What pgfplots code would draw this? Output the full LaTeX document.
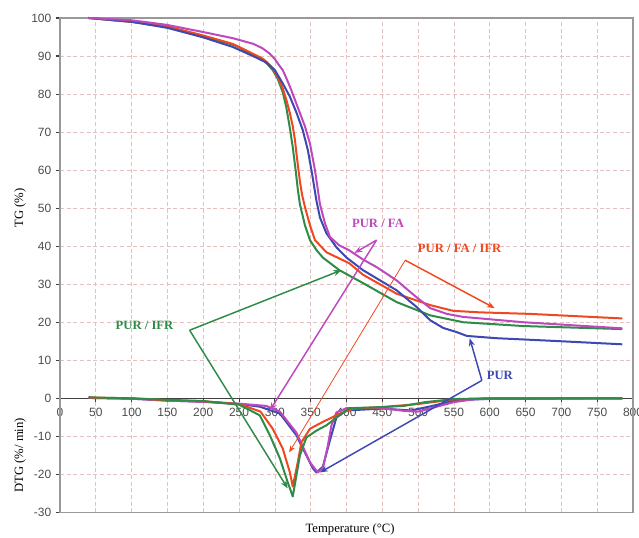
\documentclass[border=0pt]{standalone}
\usepackage{fontspec}
\setmainfont{Liberation Serif}
\newfontfamily\tickfont{Liberation Sans}
\usepackage{pgfplots}
\usepackage{pgfplotstable}
\pgfplotsset{compat=1.18}
\usetikzlibrary{arrows.meta}

\definecolor{cGreen}{RGB}{46,139,72}
\definecolor{cOrange}{RGB}{240,72,30}
\definecolor{cBlue}{RGB}{62,72,178}
\definecolor{cMag}{RGB}{190,72,190}
\definecolor{gridc}{RGB}{228,192,192}

% TG curves (mass %)
\pgfplotstableread{
T    m
40   100
80   99.3
100  99.0
150  97.6
200  95.2
241  93.0
250  92.3
262  91.0
275  89.8
283  89.0
290  87.8
297  86.3
304  84.0
311  80.5
316  76.5
321  71.0
325  66.0
329  60.0
332  55.0
335  51.0
342  45.5
349  41.6
358  39.0
367  37.0
390  33.7
423  30.3
470  25.3
517  21.8
563  20.0
647  19.0
785  18.2
}\tgPURIFR

\pgfplotstableread{
T    m
40   100
100  99.0
150  97.8
200  95.4
241  93.2
262  91.3
283  89.3
290  88.2
297  86.8
304  84.5
311  81.5
316  78.5
321  75.0
325  71.5
328  68.0
331  63.0
335  57.0
338  53.5
342  50.3
349  45.5
356  41.6
372  38.4
404  35.5
423  32.5
470  27.5
517  24.5
549  23.0
586  22.6
656  22.2
785  21.0
}\tgPURFAIFR

\pgfplotstableread{
T    m
40   100
100  99.0
150  97.4
200  94.9
241  92.4
260  90.8
275  89.5
288  88.3
300  86.3
311  82.8
321  79.3
330  75.2
339  70.5
346  65.3
352  59.0
358  52.0
363  47.5
372  43.4
386  39.7
400  37.0
423  33.7
470  28.4
498  24.0
517  20.5
535  18.5
554  17.4
568  16.4
610  15.8
700  15.0
785  14.2
}\tgPUR

\pgfplotstableread{
T    m
40   100
100  99.4
149  98.2
200  96.3
241  94.7
270  93.2
283  92.0
293  90.6
300  89.2
305  87.8
311  86.3
316  84.2
322  81.5
328  78.5
335  75.0
342  71.5
349  67.0
356  60.0
363  51.0
370  46.0
377  42.4
390  40.2
404  38.9
423  36.5
442  34.5
470  31.0
495  27.0
517  23.7
540  22.2
563  21.4
647  20.0
785  18.4
}\tgPURFA

% DTG curves (%/min)
\pgfplotstableread{
T    d
40   0.3
50   0.2
100  0.0
150  -0.4
200  -0.7
250  -1.7
262  -2.8
279  -4.5
293  -9.7
307  -15.8
318  -22.1
325  -25.8
335  -15.0
344  -10.3
358  -8.5
372  -7.1
390  -4.5
404  -2.6
450  -2.3
480  -2.0
510  -1.0
550  -0.2
600  0.0
785  0.0
}\dtgPURIFR

\pgfplotstableread{
T    d
40   0.2
100  0.0
150  -0.5
200  -0.8
250  -1.5
280  -3.5
297  -8.0
311  -13.2
321  -19.5
325  -23.2
332  -16.8
337  -11.6
349  -8.0
367  -6.2
391  -4.0
410  -2.7
450  -2.3
500  -1.5
550  -0.3
600  0.0
785  0.0
}\dtgPURFAIFR

\pgfplotstableread{
T    d
40   0.1
100  -0.1
150  -0.6
200  -0.9
250  -1.5
279  -2.2
307  -4.0
330  -9.7
344  -15.0
353  -18.4
358  -19.5
367  -18.0
377  -11.0
386  -5.0
400  -3.2
450  -2.7
490  -3.2
520  -2.0
550  -0.6
600  -0.1
785  0.0
}\dtgPUR

\pgfplotstableread{
T    d
40   0.1
100  -0.1
150  -0.6
200  -0.9
250  -1.4
288  -2.0
307  -3.5
330  -9.0
349  -16.8
360  -19.5
367  -18.4
374  -12.4
379  -7.1
386  -3.7
400  -2.6
450  -2.6
480  -3.3
500  -3.5
520  -2.5
550  -1.0
580  -0.2
785  0.0
}\dtgPURFA

\begin{document}
\begin{tikzpicture}
\begin{axis}[
  scale only axis,
  width=430pt, height=371pt,
  xmin=0, xmax=800, ymin=-30, ymax=100,
  axis x line=middle, axis y line=left,
  axis line style={-, black!75, line width=1.1pt},
  xtick={0,50,...,800}, ytick={-30,-20,...,100},
  hide obscured x ticks=false, hide obscured y ticks=false,
  grid=major,
  major grid style={gridc, densely dashed, line width=0.5pt},
  tick align=outside, major tick length=3pt,
  tick style={black!75, line width=0.8pt},
  ticklabel style={font=\tickfont\fontsize{9}{10}\selectfont, text=black!70},
  x tick label style={yshift=-1pt},
  /pgf/number format/assume math mode=true,
  clip=false,
  every axis plot/.append style={line width=1.5pt, line join=round},
]
\coordinate (SW) at (rel axis cs:0,0);
\coordinate (NE) at (rel axis cs:1,1);
\draw[black!40, line width=0.8pt] (rel axis cs:0,0) rectangle (rel axis cs:1,1);

% TG
\addplot[cGreen]  table[x=T,y=m] {\tgPURIFR};
\addplot[cOrange] table[x=T,y=m] {\tgPURFAIFR};
\addplot[cBlue]   table[x=T,y=m] {\tgPUR};
\addplot[cMag]    table[x=T,y=m] {\tgPURFA};
% DTG
\addplot[cBlue]   table[x=T,y=d] {\dtgPUR};
\addplot[cMag]    table[x=T,y=d] {\dtgPURFA};
\addplot[cOrange] table[x=T,y=d] {\dtgPURFAIFR};
\addplot[cGreen]  table[x=T,y=d] {\dtgPURIFR};

% callouts
\tikzset{call/.style={line width=1.1pt, -{Stealth[length=6pt,width=4.5pt]}}}
\draw[cMag,call] (axis cs:442,41.6) -- (axis cs:411,38.2);
\draw[cMag,call] (axis cs:442,41.6) -- (axis cs:293,-3.2);
\draw[cOrange,call] (axis cs:482,36.3) -- (axis cs:607,23.7);
\draw[cOrange,line width=0.6pt,-{Stealth[length=5pt,width=4pt]}] (axis cs:482,36.3) -- (axis cs:320,-14.2);
\draw[cGreen,call] (axis cs:181,17.9) -- (axis cs:393,33.7);
\draw[cGreen,call] (axis cs:181,17.9) -- (axis cs:318,-23.7);
\draw[cBlue,call] (axis cs:589,4.7) -- (axis cs:572,15.8);
\draw[cBlue,call] (axis cs:589,4.7) -- (axis cs:363,-19.5);

\node[font=\fontsize{9.5}{11}\selectfont\bfseries, text=cMag] at (axis cs:444,46) {PUR / FA};
\node[font=\fontsize{9.5}{11}\selectfont\bfseries, text=cOrange] at (axis cs:558,39.5) {PUR / FA / IFR};
\node[font=\fontsize{9.5}{11}\selectfont\bfseries, text=cGreen] at (axis cs:118,19.2) {PUR / IFR};
\node[font=\fontsize{9.5}{11}\selectfont\bfseries, text=cBlue] at (axis cs:614,6) {PUR};

% axis titles
\node[rotate=90, font=\fontsize{9.5}{11}\selectfont] at ([xshift=-30pt]axis cs:0,50) {TG (\%)};
\node[rotate=90, font=\fontsize{9.5}{11}\selectfont] at ([xshift=-30pt]axis cs:0,-15) {DTG (\%/ min)};
\node[font=\fontsize{9.5}{11}\selectfont] at ([yshift=-12.5pt]axis cs:405,-30) {Temperature (\textdegree C)};
\end{axis}
\pgfresetboundingbox
\path[use as bounding box] ([shift={(-45pt,-19pt)}]SW) rectangle ([shift={(4.5pt,13.5pt)}]NE);
\end{tikzpicture}
\end{document}
